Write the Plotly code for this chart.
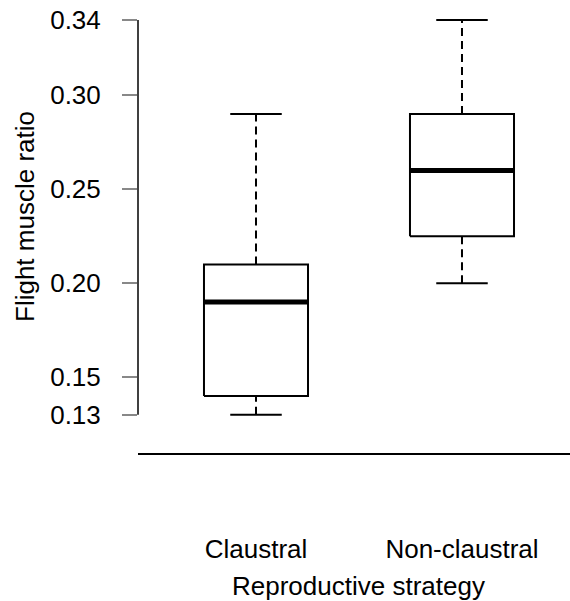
import plotly.graph_objects as go

categories = ["Claustral", "Non-claustral"]
lower_whisker = [0.13, 0.20]
q1 = [0.14, 0.225]
median = [0.19, 0.26]
q3 = [0.21, 0.29]
upper_whisker = [0.29, 0.34]
y_ticks = [0.13, 0.15, 0.20, 0.25, 0.30, 0.34]
y_tick_labels = ["0.13", "0.15", "0.20", "0.25", "0.30", "0.34"]

FONT = "Liberation Sans, Arial, sans-serif"
FS = 26
half_box = 0.2525
half_cap = 0.125

fig = go.Figure()
for i, cat in enumerate(categories):
    x = i + 1
    # dashed whiskers
    fig.add_trace(go.Scatter(x=[x, x], y=[q3[i], upper_whisker[i]], mode="lines",
                             line=dict(color="black", width=2, dash="8px,5px"),
                             showlegend=False, hoverinfo="skip"))
    fig.add_trace(go.Scatter(x=[x, x], y=[lower_whisker[i], q1[i]], mode="lines",
                             line=dict(color="black", width=2, dash="8px,5px"),
                             showlegend=False, hoverinfo="skip"))
    # caps
    for w in (lower_whisker[i], upper_whisker[i]):
        fig.add_trace(go.Scatter(x=[x - half_cap, x + half_cap], y=[w, w], mode="lines",
                                 line=dict(color="black", width=2),
                                 showlegend=False, hoverinfo="skip"))
    # box
    fig.add_trace(go.Scatter(x=[x - half_box, x + half_box, x + half_box, x - half_box, x - half_box],
                             y=[q1[i], q1[i], q3[i], q3[i], q1[i]], mode="lines",
                             fill="toself", fillcolor="white",
                             line=dict(color="black", width=2),
                             showlegend=False, hoverinfo="skip"))
    # median
    fig.add_trace(go.Scatter(x=[x - half_box, x + half_box], y=[median[i], median[i]], mode="lines",
                             line=dict(color="black", width=5),
                             showlegend=False, hoverinfo="skip"))

fig.add_shape(type="line", xref="paper", yref="y", x0=0, x1=0,
              y0=min(y_ticks), y1=max(y_ticks), line=dict(color="black", width=1.5))

fig.update_layout(
    width=570, height=601,
    margin=dict(l=138, r=0, t=10, b=148),
    paper_bgcolor="white", plot_bgcolor="white",
    font=dict(family=FONT, size=FS, color="black"),
    xaxis=dict(range=[0.4272, 2.5243], tickvals=[1, 2], ticktext=categories,
               showgrid=False, zeroline=False, showline=True, linecolor="black",
               linewidth=1.5, ticks="", ticklabelstandoff=72,
               tickfont=dict(size=FS)),
    yaxis=dict(range=[0.1097, 0.3453], tickvals=y_ticks, ticktext=y_tick_labels,
               showgrid=False, zeroline=False, showline=False,
               ticks="outside", ticklen=15, tickcolor="#888888", tickwidth=1.5,
               ticklabelstandoff=16, tickfont=dict(size=FS)),
    annotations=[
        dict(text="Reproductive strategy", xref="paper", yref="paper",
             x=(358 - 138) / 432, y=(453 - 586) / 443, showarrow=False,
             xanchor="center", yanchor="middle", font=dict(size=FS)),
        dict(text="Flight muscle ratio", xref="paper", yref="paper",
             x=(25 - 138) / 432, y=(453 - 217) / 443, showarrow=False, textangle=-90,
             xanchor="center", yanchor="middle", font=dict(size=FS)),
    ],
)

fig.write_html("out.html")
